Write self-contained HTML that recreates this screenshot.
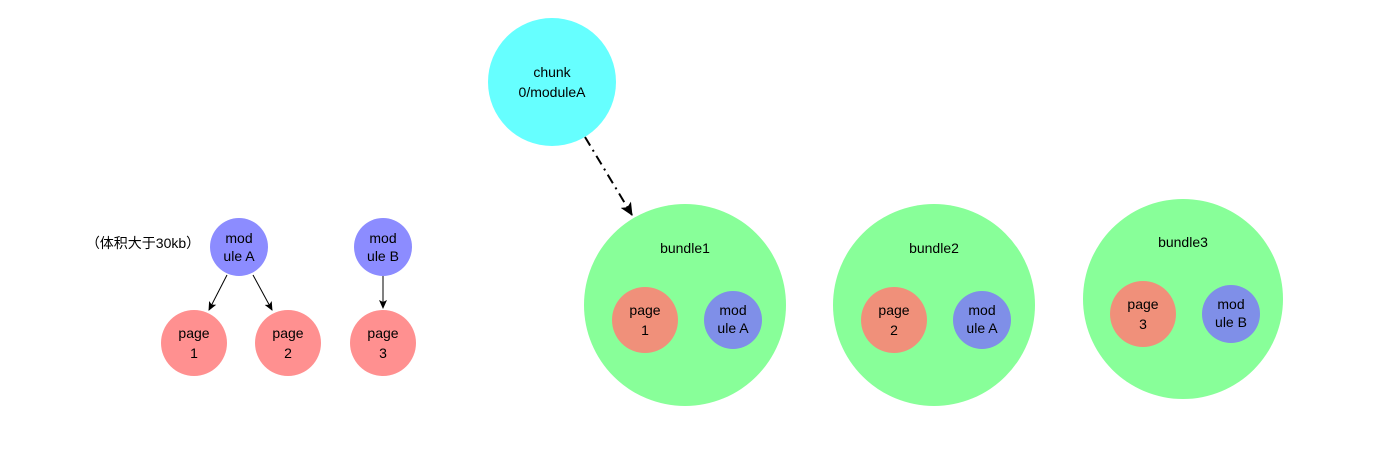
<!DOCTYPE html>
<html><head><meta charset="utf-8"><style>
html,body{margin:0;padding:0;background:#fff;}
svg{display:block;}
text{font-family:"Liberation Sans","Noto Sans CJK SC",sans-serif;font-size:14px;fill:#000;text-anchor:middle;}
</style></head><body>
<svg width="1400" height="454" viewBox="0 0 1400 454" xmlns="http://www.w3.org/2000/svg">
<defs>
<marker id="a" markerWidth="10" markerHeight="10" refX="8" refY="5" orient="auto" markerUnits="userSpaceOnUse"><path d="M0,1 L9,5 L0,9 L2,5 Z" fill="#000"/></marker>
<marker id="b" markerWidth="14" markerHeight="14" refX="12" refY="7" orient="auto" markerUnits="userSpaceOnUse"><path d="M0,1 L13,7 L0,13 L3,7 Z" fill="#000"/></marker>
</defs>
<!-- left -->
<text x="143" y="248" style="font-size:14px">（体积大于30kb）</text>
<circle cx="239" cy="247" r="29" fill="#8c8cff"/>
<text x="239" y="243">mod</text><text x="239" y="261">ule A</text>
<circle cx="383" cy="247" r="29" fill="#8c8cff"/>
<text x="383" y="243">mod</text><text x="383" y="261">ule B</text>
<circle cx="194" cy="343" r="33" fill="#ff9090"/>
<text x="194" y="338">page</text><text x="194" y="358">1</text>
<circle cx="288" cy="343" r="33" fill="#ff9090"/>
<text x="288" y="338">page</text><text x="288" y="358">2</text>
<circle cx="383" cy="343" r="33" fill="#ff9090"/>
<text x="383" y="338">page</text><text x="383" y="358">3</text>
<line x1="227" y1="275" x2="209" y2="310" stroke="#000" stroke-width="1" marker-end="url(#a)"/>
<line x1="253" y1="275" x2="272" y2="310" stroke="#000" stroke-width="1" marker-end="url(#a)"/>
<line x1="383" y1="276" x2="383" y2="308" stroke="#000" stroke-width="1" marker-end="url(#a)"/>
<!-- chunk -->
<circle cx="552" cy="82" r="64" fill="#66ffff"/>
<text x="552" y="77">chunk</text><text x="552" y="97">0/moduleA</text>
<line x1="585" y1="137" x2="632" y2="215" stroke="#000" stroke-width="2" stroke-dasharray="10,5,2,5" marker-end="url(#b)"/>
<!-- bundles -->
<circle cx="685" cy="305" r="101" fill="#88ff99"/>
<text x="685" y="253">bundle1</text>
<circle cx="645" cy="320" r="33" fill="#f0907a"/>
<text x="645" y="315">page</text><text x="645" y="335">1</text>
<circle cx="733" cy="320" r="29" fill="#7f8fe8"/>
<text x="733" y="315">mod</text><text x="733" y="333">ule A</text>

<circle cx="934" cy="305" r="101" fill="#88ff99"/>
<text x="934" y="253">bundle2</text>
<circle cx="894" cy="320" r="33" fill="#f0907a"/>
<text x="894" y="315">page</text><text x="894" y="335">2</text>
<circle cx="982" cy="320" r="29" fill="#7f8fe8"/>
<text x="982" y="315">mod</text><text x="982" y="333">ule A</text>

<circle cx="1183" cy="299" r="100" fill="#88ff99"/>
<text x="1183" y="247">bundle3</text>
<circle cx="1143" cy="314" r="33" fill="#f0907a"/>
<text x="1143" y="309">page</text><text x="1143" y="329">3</text>
<circle cx="1231" cy="314" r="29" fill="#7f8fe8"/>
<text x="1231" y="309">mod</text><text x="1231" y="327">ule B</text>
</svg>
</body></html>
